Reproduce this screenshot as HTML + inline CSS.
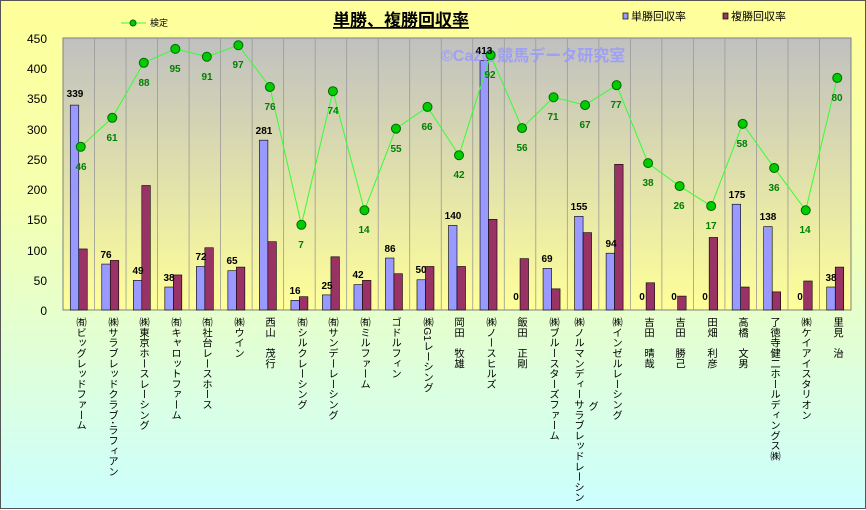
<!DOCTYPE html>
<html><head><meta charset="utf-8">
<style>
html,body{margin:0;padding:0;}
body{width:866px;height:509px;overflow:hidden;font-family:"Liberation Sans","Noto Sans CJK JP",sans-serif;}
#wrap{position:relative;width:864px;height:507px;border:1px solid #555;background:linear-gradient(#ffff99 0%,#f4ffb0 40%,#ccffff 100%);}
.xl{position:absolute;top:316px;writing-mode:vertical-rl;font-size:10.3px;line-height:12px;color:#000;white-space:nowrap;}
</style></head>
<body><div id="wrap">
<svg width="866" height="509" style="position:absolute;left:0;top:0" font-family="Liberation Sans, Noto Sans CJK JP, sans-serif">
<defs><linearGradient id="pg" x1="0" y1="0" x2="0" y2="1"><stop offset="0" stop-color="#c0c0c0"/><stop offset="1" stop-color="#ffff99"/></linearGradient></defs>
<rect x="62" y="37" width="788" height="272" fill="url(#pg)" stroke="#808080"/>
<g id="grid"></g>
<g id="bars"></g>
<text x="440" y="60" font-size="16" font-weight="bold" fill="#9999ff" opacity="0.85">©Cazの競馬データ研究室</text>
<polyline id="ln" fill="none" stroke="#33ff33" stroke-width="1"/>
<g id="mk"></g>
<g font-size="12" fill="#000" text-anchor="end">
<text x="46" y="42">450</text><text x="46" y="72">400</text><text x="46" y="102">350</text><text x="46" y="133">300</text><text x="46" y="163">250</text><text x="46" y="193">200</text><text x="46" y="223">150</text><text x="46" y="254">100</text><text x="46" y="284">50</text><text x="46" y="314">0</text>
</g>
<text x="400" y="25" font-size="17" font-weight="bold" text-anchor="middle" text-decoration="underline">単勝、複勝回収率</text>
<line x1="120" y1="22" x2="145" y2="22" stroke="#33ff33"/><circle cx="132" cy="22" r="3" fill="#00cc00" stroke="#006600"/>
<text x="149" y="25" font-size="9">検定</text>
<rect x="622" y="12" width="5" height="6" fill="#9999ff" stroke="#000" stroke-width="0.7"/><text x="630" y="19" font-size="11">単勝回収率</text>
<rect x="722" y="12" width="5" height="6" fill="#993366" stroke="#000" stroke-width="0.7"/><text x="730" y="19" font-size="11">複勝回収率</text>
<g font-size="10" font-weight="bold" fill="#000" text-anchor="middle">
<text x="74" y="96">339</text><text x="105" y="257">76</text><text x="137" y="273">49</text><text x="168" y="280">38</text><text x="200" y="259">72</text><text x="231" y="263">65</text><text x="263" y="133">281</text><text x="294" y="293">16</text><text x="326" y="288">25</text><text x="357" y="277">42</text><text x="389" y="251">86</text><text x="420" y="272">50</text><text x="452" y="218">140</text><text x="483" y="53">413</text><text x="515" y="299">0</text><text x="546" y="261">69</text><text x="578" y="209">155</text><text x="610" y="246">94</text><text x="641" y="299">0</text><text x="673" y="299">0</text><text x="704" y="299">0</text><text x="736" y="197">175</text><text x="767" y="219">138</text><text x="799" y="299">0</text><text x="830" y="280">38</text>
</g>
<g font-size="10" font-weight="bold" fill="#008000" text-anchor="middle">
<text x="80" y="169">46</text><text x="111" y="140">61</text><text x="143" y="85">88</text><text x="174" y="71">95</text><text x="206" y="79">91</text><text x="237" y="67">97</text><text x="269" y="109">76</text><text x="300" y="247">7</text><text x="332" y="113">74</text><text x="363" y="232">14</text><text x="395" y="151">55</text><text x="426" y="129">66</text><text x="458" y="177">42</text><text x="489" y="77">92</text><text x="521" y="150">56</text><text x="552" y="119">71</text><text x="584" y="127">67</text><text x="615" y="107">77</text><text x="647" y="185">38</text><text x="678" y="208">26</text><text x="710" y="228">17</text><text x="741" y="146">58</text><text x="773" y="190">36</text><text x="804" y="232">14</text><text x="836" y="100">80</text>
</g>
</svg>
<div class="xl" style="left:72px">㈲ビッグレッドファーム</div>
<div class="xl" style="left:104px">㈱サラブレッドクラブ･ラフィアン</div>
<div class="xl" style="left:135px">㈱東京ホースレーシング</div>
<div class="xl" style="left:167px">㈲キャロットファーム</div>
<div class="xl" style="left:198px">㈲社台レースホース</div>
<div class="xl" style="left:230px">㈱ウイン</div>
<div class="xl" style="left:261px">西山　茂行</div>
<div class="xl" style="left:293px">㈲シルクレーシング</div>
<div class="xl" style="left:324px">㈲サンデーレーシング</div>
<div class="xl" style="left:356px">㈲ミルファーム</div>
<div class="xl" style="left:387px">ゴドルフィン</div>
<div class="xl" style="left:419px">㈱G1レーシング</div>
<div class="xl" style="left:450px">岡田　牧雄</div>
<div class="xl" style="left:482px">㈱ノースヒルズ</div>
<div class="xl" style="left:513px">飯田　正剛</div>
<div class="xl" style="left:545px">㈱ブルースターズファーム</div>
<div class="xl" style="left:570px">㈱ノルマンディーサラブレッドレーシン</div>
<div class="xl" style="left:584px;top:400px">グ</div>
<div class="xl" style="left:608px">㈱インゼルレーシング</div>
<div class="xl" style="left:640px">吉田　晴哉</div>
<div class="xl" style="left:671px">吉田　勝己</div>
<div class="xl" style="left:703px">田畑　利彦</div>
<div class="xl" style="left:734px">高橋　文男</div>
<div class="xl" style="left:766px">了徳寺健二ホールディングス㈱</div>
<div class="xl" style="left:797px">㈱ケイアイスタリオン</div>
<div class="xl" style="left:829px">里見　治</div>
</div>
<script>
var B=[339,76,49,38,72,65,281,16,25,42,86,50,140,413,0,69,155,94,0,0,0,175,138,0,38];
var R=[101,82,206,58,103,71,113,22,88,49,60,72,72,150,85,35,128,241,45,23,120,38,30,48,71];
var L=[270,318,409,432,419,438,369,141,362,165,300,336,256,422,301,352,339,372,243,205,172,308,235,165,384];
var ns="http://www.w3.org/2000/svg",k=0.6044,w=31.52;
function el(t,a,p){var e=document.createElementNS(ns,t);for(var i in a)e.setAttribute(i,a[i]);document.getElementById(p).appendChild(e);return e;}
var pts=[];
for(var i=0;i<25;i++){var c=62+w*(i+0.5);
 if(i>0)el('line',{x1:62+w*i,y1:37,x2:62+w*i,y2:309,stroke:'#999',"stroke-width":0.8},'grid');
 el('rect',{x:c-8.5,y:309-B[i]*k,width:8.5,height:B[i]*k,fill:'#9999ff',stroke:'#000',"stroke-width":0.6},'bars');
 el('rect',{x:c,y:309-R[i]*k,width:8.5,height:R[i]*k,fill:'#993366',stroke:'#000',"stroke-width":0.6},'bars');
 var lx=c+2,ly=309-L[i]*k;pts.push(lx+','+ly);
 el('circle',{cx:lx,cy:ly,r:4.5,fill:'#00cc00',stroke:'#006600',"stroke-width":1},'mk');
}
document.getElementById('ln').setAttribute('points',pts.join(' '));
</script>
</body></html>
